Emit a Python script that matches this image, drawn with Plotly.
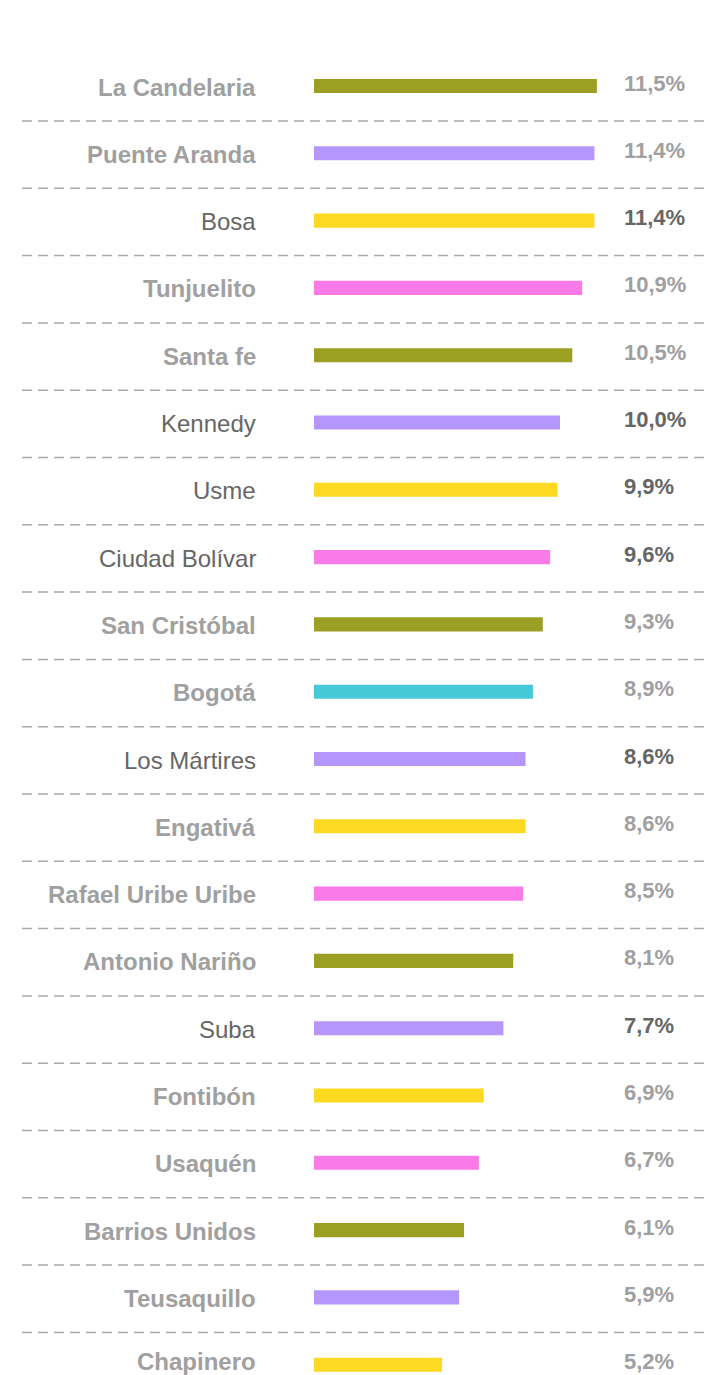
import plotly.graph_objects as go

localidades = ["La Candelaria", "Puente Aranda", "Bosa", "Tunjuelito", "Santa fe",
               "Kennedy", "Usme", "Ciudad Bolívar", "San Cristóbal", "Bogotá",
               "Los Mártires", "Engativá", "Rafael Uribe Uribe", "Antonio Nariño", "Suba",
               "Fontibón", "Usaquén", "Barrios Unidos", "Teusaquillo", "Chapinero"]
valores = [11.5, 11.4, 11.4, 10.9, 10.5, 10.0, 9.9, 9.6, 9.3, 8.9,
           8.6, 8.6, 8.5, 8.1, 7.7, 6.9, 6.7, 6.1, 5.9, 5.2]
destacadas = ["Bosa", "Kennedy", "Usme", "Ciudad Bolívar", "Los Mártires", "Suba"]

OLIVA, LAVANDA, AMARILLO, ROSA, CIAN = "#9b9f24", "#b596fc", "#fdd922", "#f97ae8", "#45c8d8"
colores = [OLIVA, LAVANDA, AMARILLO, ROSA, OLIVA, LAVANDA, AMARILLO, ROSA, OLIVA, CIAN,
           LAVANDA, AMARILLO, ROSA, OLIVA, LAVANDA, AMARILLO, ROSA, OLIVA, LAVANDA, AMARILLO]

GRIS = "#a0a0a0"
OSCURO = "#666666"
FONT = "Liberation Sans, Arial, Helvetica, sans-serif"

W, H = 709, 1375
fig = go.Figure(go.Bar(
    x=valores, y=localidades, orientation="h",
    marker=dict(color=colores, line=dict(width=0)),
    width=0.21, hoverinfo="skip",
))

n = len(localidades)
annotations = []
shapes = []
for i, (nombre, v) in enumerate(zip(localidades, valores)):
    dest = nombre in destacadas
    col = OSCURO if dest else GRIS
    etiqueta = nombre if dest else f"<b>{nombre}</b>"
    annotations.append(dict(
        x=258 / W, xref="paper", y=nombre, yref="y", xanchor="right", yanchor="middle",
        text=etiqueta, showarrow=False, yshift=(3 if i == n - 1 else -1),
        font=dict(family=FONT, size=24, color=col)))
    annotations.append(dict(
        x=622 / W, xref="paper", y=nombre, yref="y", xanchor="left", yanchor="middle",
        text="<b>" + f"{v:.1f}".replace(".", ",") + "%</b>", showarrow=False, yshift=3,
        font=dict(family=FONT, size=22, color=col)))
    if i < n - 1:
        shapes.append(dict(
            type="line", xref="paper", yref="y", x0=22 / W, x1=1,
            y0=i + 0.52, y1=i + 0.52,
            line=dict(color="#a8a8a8", width=1.5, dash="10px,6px")))

px_unit = 24.6
x0_px = 314
fig.update_layout(
    width=W, height=H,
    margin=dict(l=0, r=0, t=0, b=0),
    paper_bgcolor="white", plot_bgcolor="white",
    showlegend=False,
    xaxis=dict(range=[-x0_px / px_unit, (W - x0_px) / px_unit], visible=False, fixedrange=True),
    yaxis=dict(type="category", categoryorder="array", categoryarray=localidades,
               range=[(H - 86) / 67.3, -86 / 67.3], visible=False, fixedrange=True),
    annotations=annotations, shapes=shapes,
)

fig.write_html("out.html", config={"displayModeBar": False},
               post_script="document.body.style.margin='0';document.body.style.overflow='hidden';")
